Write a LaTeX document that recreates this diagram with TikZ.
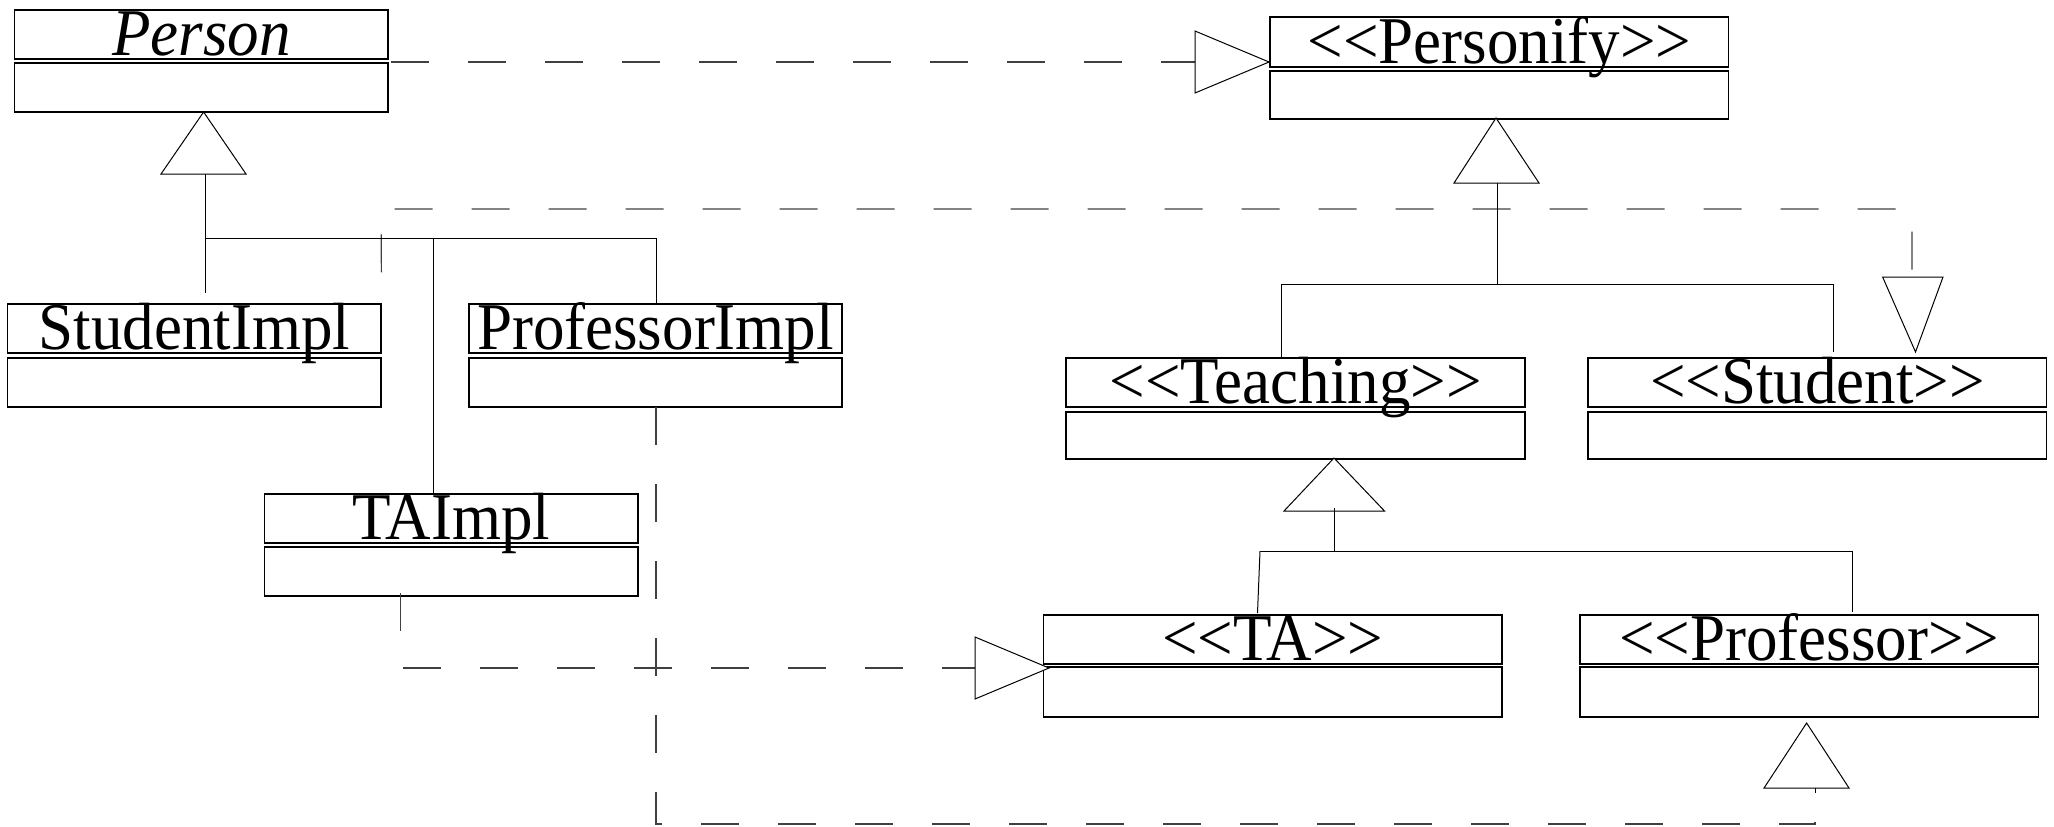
\documentclass[tikz,border=0pt]{standalone}
\usepackage{fontspec}
\setmainfont{Liberation Serif}
\usetikzlibrary{fit}
\newcommand\umlclass[8]{%
  \node[box, fit={(#2,#4)(#3,#5)}] (#1) {};
  \node[box, fit={(#2,#6)(#3,#7)}] (#1a) {};
  \node[lbl] (#1t) at ([yshift=2pt]#1.south) {#8};
}
\begin{document}
\begin{tikzpicture}[x=0.5pt,y=-0.5pt,
  box/.style={draw, line width=0.6pt, inner sep=0pt, rectangle},
  lbl/.style={anchor=base, inner sep=0pt, yscale=1.06, font=\fontsize{31.5}{36}\selectfont},
  conn/.style={line width=0.5pt},
  dsh/.style={line width=0.6pt, black!75, dash pattern=on 19pt off 19.5pt},
  tri/.style={draw, line width=0.5pt, fill=white, line join=miter}]
\useasboundingbox (0,0) rectangle (2054,826);

% classes
\umlclass{person}{14.7}{388}{10}{59}{63}{112}{\itshape Person}
\umlclass{studimpl}{7.6}{381}{304}{353}{358}{407}{StudentImpl}
\umlclass{profimpl}{469}{842}{304}{353}{358}{407}{ProfessorImpl}
\umlclass{taimpl}{264.5}{638}{494}{543}{547}{596}{TAImpl}
\umlclass{personify}{1270}{1728.6}{17}{67}{71}{119}{<{}<Personify>{}>}
\umlclass{teaching}{1066}{1525}{358}{407}{412}{459}{<{}<Teaching>{}>}
\umlclass{student}{1588}{2046.6}{358}{407}{412}{459}{<{}<Student>{}>}
\umlclass{ta}{1043.7}{1502}{615}{664}{667}{717}{<{}<TA>{}>}
\umlclass{prof}{1580}{2038.5}{615}{664}{667}{717}{<{}<Professor>{}>}

% realization: Person -> Personify
\coordinate (r1s) at (391,62);
\coordinate (r1e) at (1195,62);
\draw[dsh] (r1s) -- (r1e);
\draw[tri] (1269,62) -- (1195,31) -- (1195,93) -- cycle;

% realization: StudentImpl -> Student
\coordinate (r2a) at (studimpl.north east);
\coordinate (r2b) at (381,209);
\coordinate (r2c) at (1912,209);
\coordinate (r2d) at (1912,277);
\draw[dsh, dash phase=23pt] (r2a) -- (r2b) -- (r2c) -- (r2d);
\draw[tri] (1915.5,352) -- (1882.6,277) -- (1943,277) -- cycle;

% realization: TAImpl -> TA
\coordinate (r3a) at (400.6,593);
\coordinate (r3b) at (400.6,668);
\coordinate (r3c) at (975,668);
\draw[dsh] (r3a) -- (r3b) -- (r3c);
\draw[tri] (1049,668) -- (975,637) -- (975,699) -- cycle;

% realization: ProfessorImpl -> Professor
\coordinate (r4a) at (656,407);
\coordinate (r4b) at (656,824);
\coordinate (r4c) at (1815,824);
\coordinate (r4d) at (1815,788);
\draw[dsh] (r4a) -- (r4b) -- (r4c) -- (r4d);
\draw[tri] (1806.6,723) -- (1764,788) -- (1849,788) -- cycle;
\draw[conn] (r4d) -- (1815,793);

% generalization tree: Person
\coordinate (p0) at (205,174);
\coordinate (pj) at (205,238);
\coordinate (pt) at (433,238);
\coordinate (pp) at (656,238);
\draw[conn] (p0) -- (205,293);
\draw[conn] (pj) -- (pp);
\draw[conn] (pt) -- (pt |- taimpl.north);
\draw[conn] (pp) -- (pp |- profimpl.north);
\draw[tri] (203.6,112) -- (161,174) -- (246,174) -- cycle;

% generalization tree: Personify
\coordinate (q0) at (1497,183);
\coordinate (qj) at (1497,284);
\coordinate (ql) at (1281,284);
\coordinate (qr) at (1833,284);
\draw[conn] (q0) -- (qj);
\draw[conn] (ql) -- (qr);
\draw[conn] (ql) -- (ql |- teaching.north);
\draw[conn] (qr) -- (1833,352);
\draw[tri] (1496,118) -- (1454,183) -- (1539,183) -- cycle;

% generalization tree: Teaching
\coordinate (t0) at (1334,508);
\coordinate (tj) at (1334,551);
\coordinate (tl) at (1260,551);
\coordinate (tr) at (1852,551);
\draw[tri] (1334,458) -- (1284,511) -- (1384.5,511) -- cycle;
\draw[conn] (t0) -- (tj);
\draw[conn] (tl) -- (tr);
\draw[conn] (tl) -- (1257.5,613);
\draw[conn] (tr) -- (1852,612);
\end{tikzpicture}
\end{document}
